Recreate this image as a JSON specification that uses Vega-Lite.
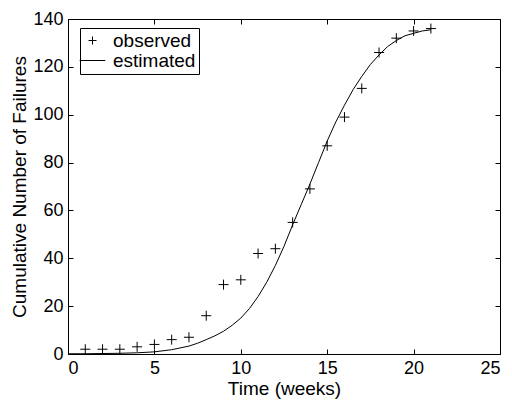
{
  "$schema": "https://vega.github.io/schema/vega-lite/v6.json",
  "width": 432,
  "height": 335,
  "autosize": "none",
  "padding": {"left": 68, "top": 19, "right": 12, "bottom": 49},
  "background": "white",
  "config": {
    "view": {"stroke": "black", "strokeWidth": 1},
    "font": "Liberation Sans",
    "axis": {
      "grid": false,
      "domainColor": "black",
      "tickColor": "black",
      "labelColor": "black",
      "titleColor": "black",
      "labelFont": "Liberation Sans",
      "titleFont": "Liberation Sans",
      "labelFontSize": 18,
      "titleFontSize": 19,
      "titleFontWeight": "normal",
      "tickSize": -5,
      "labelPadding": 10
    }
  },
  "datasets": {
    "obs": [
      {"t": 1, "n": 2, "series": "observed"},
      {"t": 2, "n": 2, "series": "observed"},
      {"t": 3, "n": 2, "series": "observed"},
      {"t": 4, "n": 3, "series": "observed"},
      {"t": 5, "n": 4, "series": "observed"},
      {"t": 6, "n": 6, "series": "observed"},
      {"t": 7, "n": 7, "series": "observed"},
      {"t": 8, "n": 16, "series": "observed"},
      {"t": 9, "n": 29, "series": "observed"},
      {"t": 10, "n": 31, "series": "observed"},
      {"t": 11, "n": 42, "series": "observed"},
      {"t": 12, "n": 44, "series": "observed"},
      {"t": 13, "n": 55, "series": "observed"},
      {"t": 14, "n": 69, "series": "observed"},
      {"t": 15, "n": 87, "series": "observed"},
      {"t": 16, "n": 99, "series": "observed"},
      {"t": 17, "n": 111, "series": "observed"},
      {"t": 18, "n": 126, "series": "observed"},
      {"t": 19, "n": 132, "series": "observed"},
      {"t": 20, "n": 135, "series": "observed"},
      {"t": 21, "n": 136, "series": "observed"}
    ],
    "est": [
      {"t": 0, "n": 0.1},
      {"t": 1, "n": 0.1},
      {"t": 2, "n": 0.2},
      {"t": 3, "n": 0.3},
      {"t": 4, "n": 0.5},
      {"t": 5, "n": 0.9},
      {"t": 6, "n": 1.8},
      {"t": 7, "n": 3.3},
      {"t": 7.5, "n": 4.5},
      {"t": 8, "n": 6},
      {"t": 8.5, "n": 7.6},
      {"t": 9, "n": 9.5},
      {"t": 9.5, "n": 12},
      {"t": 10, "n": 15},
      {"t": 10.5, "n": 19},
      {"t": 11, "n": 24},
      {"t": 11.5, "n": 30},
      {"t": 12, "n": 37},
      {"t": 12.5, "n": 45},
      {"t": 13, "n": 54},
      {"t": 13.5, "n": 62.5},
      {"t": 14, "n": 71},
      {"t": 14.5, "n": 80},
      {"t": 15, "n": 89},
      {"t": 15.5, "n": 97},
      {"t": 16, "n": 104},
      {"t": 16.5, "n": 110.5},
      {"t": 17, "n": 116},
      {"t": 17.5, "n": 121},
      {"t": 18, "n": 125},
      {"t": 18.5, "n": 128.5},
      {"t": 19, "n": 131},
      {"t": 19.5, "n": 133},
      {"t": 20, "n": 134},
      {"t": 20.5, "n": 135},
      {"t": 21, "n": 135.5}
    ]
  },
  "layer": [
    {
      "data": {"name": "est"},
      "mark": {"type": "line", "color": "black", "strokeWidth": 1},
      "encoding": {
        "x": {
          "field": "t", "type": "quantitative",
          "scale": {"domain": [0, 25], "nice": false},
          "axis": {"title": "Time (weeks)", "values": [0, 5, 10, 15, 20, 25], "titlePadding": 2}
        },
        "y": {
          "field": "n", "type": "quantitative",
          "scale": {"domain": [0, 140], "nice": false},
          "axis": {"title": "Cumulative Number of Failures", "values": [0, 20, 40, 60, 80, 100, 120, 140], "titlePadding": 3}
        }
      }
    },
    {
      "data": {"name": "obs"},
      "mark": {"type": "point", "filled": false, "color": "black", "size": 400, "strokeWidth": 1, "opacity": 1},
      "encoding": {
        "x": {
          "field": "t", "type": "quantitative",
          "axis": {"orient": "top", "labels": false, "title": null, "domain": false, "values": [0, 5, 10, 15, 20, 25]}
        },
        "y": {
          "field": "n", "type": "quantitative",
          "axis": {"orient": "right", "labels": false, "title": null, "domain": false, "values": [0, 20, 40, 60, 80, 100, 120, 140]}
        },
        "shape": {
          "field": "series", "type": "nominal",
          "scale": {"domain": ["observed", "estimated"], "range": ["M-0.5,0H0.5M0,-0.5V0.5", "M-1.6,0H1.6"]},
          "legend": {
            "title": null,
            "orient": "none",
            "legendX": 12,
            "legendY": 9,
            "strokeColor": "black",
            "fillColor": "white",
            "padding": 3,
            "labelFontSize": 19,
            "labelColor": "black",
            "labelFont": "Liberation Sans",
            "symbolStrokeColor": "black",
            "symbolStrokeWidth": 1,
            "symbolSize": 256,
            "rowPadding": -3,
            "labelOffset": 11
          }
        }
      }
    }
  ],
  "resolve": {"axis": {"x": "independent", "y": "independent"}}
}
